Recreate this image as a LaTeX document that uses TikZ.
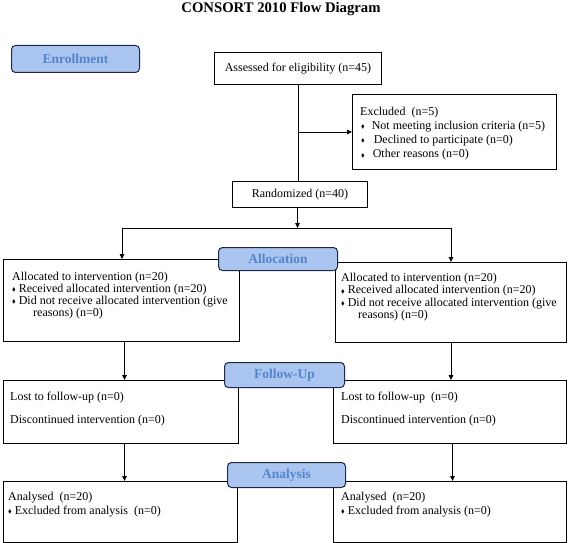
\documentclass[tikz,border=0pt]{standalone}
\usepackage{fontspec}
\setmainfont{Liberation Serif}
\usepackage{amssymb}
\usetikzlibrary{arrows.meta,calc}
\definecolor{lblfill}{RGB}{170,198,240}
\definecolor{lbltext}{RGB}{84,132,204}
\definecolor{lbldraw}{RGB}{30,40,70}
\newcommand{\bul}{\raisebox{0.8pt}{\scalebox{0.45}{$\blacklozenge$}}}
\newcommand{\txt}[2]{\parbox[t]{#1}{\raggedright\fontsize{12}{12.3}\selectfont #2}}
\tikzset{
  box/.style={draw=black, line width=1pt, rectangle, inner sep=0pt, anchor=north west},
  lbl/.style={draw=lbldraw, line width=1pt, fill=lblfill, rounded corners=4pt, inner sep=0pt,
    anchor=north west, text=lbltext, font=\bfseries\fontsize{13.5}{15}\selectfont},
  tx/.style={anchor=base west, inner sep=0pt},
  arr/.style={line width=1pt, -{Triangle[length=5pt,width=4.5pt]}},
  ln/.style={line width=1pt}
}
\begin{document}
\begin{tikzpicture}[x=1pt,y=-1pt]
\useasboundingbox (0,0) rectangle (568,543);
% title
\node[font=\bfseries\fontsize{14.7}{16}\selectfont, inner sep=0pt, anchor=base] (title) at (281,12.5) {CONSORT 2010 Flow Diagram};
% boxes
\node[box, minimum width=167pt, minimum height=32pt] (a) at (214,52) {};
\node[box, minimum width=204pt, minimum height=75pt] (ex) at (352,94) {};
\node[box, minimum width=135pt, minimum height=26pt] (r) at (232,181) {};
\node[box, minimum width=236pt, minimum height=82pt] (la) at (3,259) {};
\node[box, minimum width=231pt, minimum height=80pt] (ra) at (335,262) {};
\node[box, minimum width=235pt, minimum height=63pt] (lf) at (3,380) {};
\node[box, minimum width=233pt, minimum height=63pt] (rf) at (333,380) {};
\node[box, minimum width=234pt, minimum height=61pt] (lan) at (3,481) {};
\node[box, minimum width=233pt, minimum height=61pt] (ran) at (333,481) {};
% texts
\node[font=\fontsize{12}{12.3}\selectfont, inner sep=0pt] (a-t) at (a.center) {Assessed for eligibility (n=45)};
\node[font=\fontsize{12}{12.3}\selectfont, inner sep=0pt] (r-t) at (r.center) {Randomized (n=40)};
\node[tx] (ex-t) at (360,115) {\txt{192pt}{Excluded\ \ (n=5)\\[2pt]
  \hspace*{1pt}\bul\hspace{7pt}Not meeting inclusion criteria (n=5)\\[2pt]
  \hspace*{1pt}\bul\hspace{9pt}Declined to participate (n=0)\\[2pt]
  \hspace*{1pt}\bul\hspace{8pt}Other reasons (n=0)}};
\node[tx] (la-t) at (12,280) {\txt{226pt}{Allocated to intervention (n=20)\\
  \bul\ Received allocated intervention (n=20)\\
  \bul\ Did not receive allocated intervention (give\\
  \hspace*{21pt}reasons) (n=0)}};
\node[tx] (ra-t) at (341,281.5) {\txt{224pt}{Allocated to intervention (n=20)\\
  \bul\ Received allocated intervention (n=20)\\
  \bul\ Did not receive allocated intervention (give\\
  \hspace*{17pt}reasons) (n=0)}};
\node[tx] (lf-t) at (10,400.5) {\txt{226pt}{Lost to follow-up (n=0)\\[10.5pt]
  Discontinued intervention (n=0)}};
\node[tx] (rf-t) at (341,400.5) {\txt{224pt}{Lost to follow-up\ \ (n=0)\\[10.5pt]
  Discontinued intervention (n=0)}};
\node[tx] (lan-t) at (8,500.5) {\txt{226pt}{Analysed\ \ (n=20)\\[1.5pt]
  \bul\ Excluded from analysis\ \ (n=0)}};
\node[tx] (ran-t) at (341,500.5) {\txt{224pt}{Analysed\ \ (n=20)\\[1.5pt]
  \bul\ Excluded from analysis (n=0)}};
% connectors
\coordinate (sp) at (297.5,228);
\coordinate (sl) at (122,228);
\coordinate (sr) at (451,228);
\draw[ln] (a.south) -- (a.south |- r.north);
\draw[arr] (a.south |- ex.west) -- (ex.west);
\draw[arr] (sp |- r.south) -- (sp);
\draw[ln] (sl) -- (sr);
\draw[arr] (sl) -- (sl |- la.north);
\draw[arr] (sr) -- (sr |- ra.north);
\draw[arr] ($(la.south)+(3,0)$) -- ($(la.south |- lf.north)+(3,0)$);
\draw[arr] (ra.south) -- (ra.south |- rf.north);
\draw[arr] ($(lf.south)+(3.5,0)$) -- ($(lf.south |- lan.north)+(3.5,0)$);
\draw[arr] ($(rf.south)+(2.5,0)$) -- ($(rf.south |- ran.north)+(2.5,0)$);
% stage labels
\node[lbl, minimum width=128pt, minimum height=27pt] (enr) at (11,45) {};
\node[text=lbltext, font=\bfseries\fontsize{13.5}{15}\selectfont, inner sep=0pt] (enr-t) at (enr.center) {Enrollment};
\node[lbl, minimum width=119pt, minimum height=23pt] (alc) at (218,247) {};
\node[text=lbltext, font=\bfseries\fontsize{13.5}{15}\selectfont, inner sep=0pt] (alc-t) at (alc.center) {Allocation};
\node[lbl, minimum width=120pt, minimum height=25pt] (fol) at (224,362) {};
\node[text=lbltext, font=\bfseries\fontsize{13.5}{15}\selectfont, inner sep=0pt] (fol-t) at (fol.center) {Follow-Up};
\node[lbl, minimum width=118pt, minimum height=25pt] (ana) at (227,462) {};
\node[text=lbltext, font=\bfseries\fontsize{13.5}{15}\selectfont, inner sep=0pt] (ana-t) at (ana.center) {Analysis};
\end{tikzpicture}
\end{document}
